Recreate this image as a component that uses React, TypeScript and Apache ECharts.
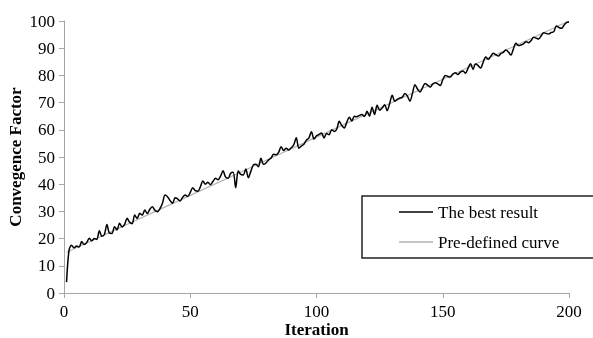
import React, { useEffect, useRef } from "react";
import * as echarts from "echarts";

const xTicks = [0, 50, 100, 150, 200];
const yTicks = [0, 10, 20, 30, 40, 50, 60, 70, 80, 90, 100];

// "The best result", iterations 1..200
const bestResult = [
  4, 15.8, 17.6, 16.6, 17.3, 16.9, 18.9, 17.8, 18.6, 20.1,
  19.2, 20.0, 19.7, 22.9, 20.9, 21.5, 25.2, 22.0, 21.9, 24.4,
  23.2, 25.6, 24.3, 25.2, 27.5, 26.0, 25.5, 28.7, 27.4, 29.3,
  28.6, 30.5, 29.2, 30.8, 31.7, 30.4, 29.9, 31.0, 33.0, 36.0,
  35.4, 34.0, 33.0, 35.0, 34.6, 33.8, 35.2, 36.0, 35.5, 37.0,
  38.7, 37.6, 37.4, 39.0, 41.2, 40.0, 40.7, 39.8, 41.0, 42.2,
  41.6, 43.0, 44.9, 42.6, 42.2, 44.0, 44.4, 38.7, 44.9, 43.6,
  43.4, 45.6, 42.4, 44.8, 47.1, 47.3, 46.4, 49.5, 47.3, 47.8,
  48.9, 49.6, 51.0, 50.8, 51.7, 53.8, 52.4, 53.2, 52.6, 53.4,
  54.5, 57.1, 53.2, 54.0, 54.7, 56.2, 57.0, 59.3, 56.6, 57.8,
  58.3, 58.8, 57.0, 58.6, 58.2, 60.0, 59.4, 60.2, 63.1, 61.6,
  60.7, 62.8, 64.6, 63.2, 65.0, 64.8, 65.3, 65.6, 64.9, 66.8,
  65.0, 68.3, 65.6, 69.0, 67.2, 68.0, 69.2, 67.0, 69.8, 72.7,
  70.5, 71.2, 71.7, 72.0, 73.3, 72.4, 70.5, 73.4, 76.6, 75.0,
  73.9, 75.5, 77.0, 76.4, 75.7, 76.8, 77.3, 76.9, 76.3, 78.4,
  80.0, 79.6, 79.4, 80.5, 81.0, 80.3, 81.2, 81.6, 80.8, 82.6,
  84.3, 82.2, 84.3, 83.6, 82.7, 84.8, 86.8, 85.9, 87.0, 88.1,
  87.6, 87.1, 88.0, 88.5, 89.3, 88.6, 87.5, 89.8, 91.8, 91.0,
  91.2, 91.6, 92.4, 92.0, 92.8, 94.0, 93.7, 93.4, 94.6, 95.7,
  95.4, 95.2, 95.8, 96.1, 98.2, 97.6, 97.3, 98.4, 99.4, 99.6,
];

// "Pre-defined curve" (straight line)
const curveX = [1, 50, 100, 150, 200];
const curveY = [15, 35.9, 57.3, 78.6, 100];

export default function App() {
  const ref = useRef<HTMLDivElement>(null);
  useEffect(() => {
    if (!ref.current) return;
    const chart = echarts.init(ref.current, undefined, { renderer: "svg" });
    const font = "Liberation Serif";
    chart.setOption({
      animation: false,
      textStyle: { fontFamily: font },
      grid: {
        left: 64,
        right: 24,
        top: 21,
        bottom: 45,
        containLabel: false,
        outerBoundsMode: "none",
      },
      xAxis: {
        type: "value",
        min: xTicks[0],
        max: xTicks[xTicks.length - 1],
        interval: 50,
        name: "Iteration",
        nameLocation: "middle",
        nameGap: 28,
        nameMoveOverlap: false,
        nameTextStyle: { fontFamily: font, fontSize: 17, fontWeight: "bold", color: "#000", lineHeight: 16 },
        axisLine: { lineStyle: { color: "#a6a6a6", width: 1 } },
        axisTick: { show: true, length: 5, lineStyle: { color: "#a6a6a6" } },
        axisLabel: { fontFamily: font, fontSize: 17, color: "#000", margin: 10 },
        splitLine: { show: false },
      },
      yAxis: {
        type: "value",
        min: yTicks[0],
        max: yTicks[yTicks.length - 1],
        interval: 10,
        name: "Convegence Factor",
        nameLocation: "middle",
        nameGap: 40,
        nameMoveOverlap: false,
        nameTextStyle: { fontFamily: font, fontSize: 17, fontWeight: "bold", color: "#000", lineHeight: 17 },
        axisLine: { show: true, lineStyle: { color: "#a6a6a6", width: 1 } },
        axisTick: { show: true, length: 5, lineStyle: { color: "#a6a6a6" } },
        axisLabel: { fontFamily: font, fontSize: 17, color: "#000", margin: 9 },
        splitLine: { show: false },
      },
      legend: {
        orient: "vertical",
        left: 399,
        top: 203,
        icon: "rect",
        itemWidth: 34,
        itemHeight: 1.5,
        itemGap: 12,
        padding: 0,
        textStyle: { fontFamily: font, fontSize: 17, color: "#000", lineHeight: 18 },
        data: ["The best result", "Pre-defined curve"],
        z: 10,
      },
      graphic: [
        {
          type: "rect",
          z: 5,
          shape: { x: 362, y: 196, width: 240, height: 62 },
          style: { fill: "#fff", stroke: "#222", lineWidth: 1.5 },
        },
      ],
      series: [
        {
          name: "Pre-defined curve",
          type: "line",
          data: curveX.map((x, i) => [x, curveY[i]]),
          symbol: "none",
          lineStyle: { color: "#b3b3b3", width: 1.2 },
          itemStyle: { color: "#b3b3b3" },
          z: 2,
        },
        {
          name: "The best result",
          type: "line",
          data: bestResult.map((v, i) => [i + 1, v]),
          symbol: "none",
          smooth: 0.3,
          lineStyle: { color: "#000", width: 1.5 },
          itemStyle: { color: "#000" },
          z: 3,
        },
      ],
    });
    return () => chart.dispose();
  }, []);
  return (
    <div
      ref={ref}
      style={{ position: "fixed", left: 0, top: 0, width: 593, height: 338 }}
    />
  );
}
